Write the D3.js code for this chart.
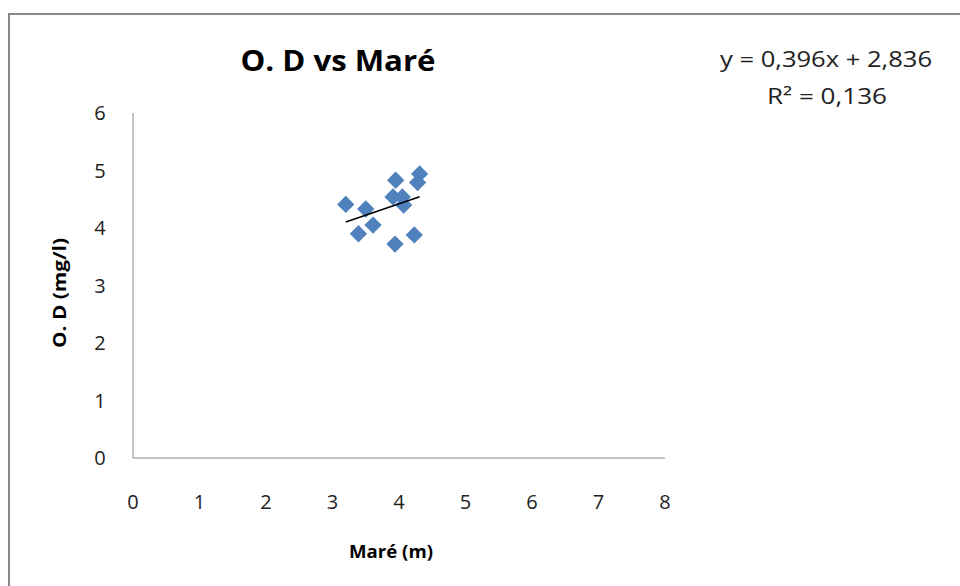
<!DOCTYPE html>
<html><head><meta charset="utf-8">
<script src="https://cdn.jsdelivr.net/npm/d3@7"></script>
<style>body{margin:0;background:#fff}svg{display:block}</style>
</head><body>
<svg id="c" width="960" height="586"></svg>
<script>
const mareValues = [3.20, 3.50, 3.39, 3.61, 3.95, 3.91, 4.05, 4.07, 3.94, 4.23, 4.31, 4.28];
const odValues   = [4.41, 4.33, 3.90, 4.05, 4.83, 4.54, 4.54, 4.40, 3.72, 3.88, 4.94, 4.79];
const xTicks = [0,1,2,3,4,5,6,7,8];
const yTicks = [0,1,2,3,4,5,6];
const slope = 0.396, intercept = 2.836, r2 = 0.136;
const title = "O. D vs Maré";
const xLabel = "Maré (m)";
const yLabel = "O. D (mg/l)";
const eqText = "y = 0,396x + 2,836";
const r2Text = "R² = 0,136";

const svg = d3.select("#c");
const font = "'Open Sans', sans-serif";
svg.append("rect").attr("x",9).attr("y",14).attr("width",1000).attr("height",700)
  .attr("fill","#fff").attr("stroke","#888").attr("stroke-width",2);

const x = d3.scaleLinear().domain([0,8]).range([133,665]);
const y = d3.scaleLinear().domain([0,6]).range([458,113]);

svg.append("line").attr("x1",x(0)).attr("x2",x(0)).attr("y1",y(6)).attr("y2",y(0)).attr("stroke","#888").attr("stroke-width",1);
svg.append("line").attr("x1",x(0)).attr("x2",x(8)).attr("y1",y(0)).attr("y2",y(0)).attr("stroke","#888").attr("stroke-width",1);

svg.append("g").selectAll("text").data(yTicks).join("text")
  .attr("x",100).attr("y",d=>y(d)).attr("dy","0.35em").attr("text-anchor","middle")
  .attr("font-family",font).attr("font-size",20).attr("fill","#222").text(d=>d);
svg.append("g").selectAll("text").data(xTicks).join("text")
  .attr("x",d=>x(d)).attr("y",502).attr("dy","0.35em").attr("text-anchor","middle")
  .attr("font-family",font).attr("font-size",20).attr("fill","#222").text(d=>d);

svg.append("text").attr("x",391).attr("y",552).attr("dy","0.35em").attr("text-anchor","middle")
  .attr("font-family",font).attr("font-size",18).attr("font-weight","bold").attr("fill","#000")
  .attr("textLength",84).attr("lengthAdjust","spacingAndGlyphs").text(xLabel);
svg.append("text").attr("transform","translate(60,293) rotate(-90)").attr("dy","0.35em").attr("text-anchor","middle")
  .attr("font-family",font).attr("font-size",18).attr("font-weight","bold").attr("fill","#000")
  .attr("textLength",110).attr("lengthAdjust","spacingAndGlyphs").text(yLabel);

svg.append("text").attr("x",338).attr("y",61).attr("dy","0.35em").attr("text-anchor","middle")
  .attr("font-family",font).attr("font-size",28).attr("font-weight","bold").attr("fill","#000")
  .attr("textLength",195).attr("lengthAdjust","spacingAndGlyphs").text(title);

svg.append("text").attr("x",826).attr("y",60).attr("dy","0.35em").attr("text-anchor","middle")
  .attr("font-family",font).attr("font-size",21).attr("fill","#222")
  .attr("textLength",212).attr("lengthAdjust","spacingAndGlyphs").text(eqText);
svg.append("text").attr("x",827).attr("y",97).attr("dy","0.35em").attr("text-anchor","middle")
  .attr("font-family",font).attr("font-size",21).attr("fill","#222")
  .attr("textLength",120).attr("lengthAdjust","spacingAndGlyphs").text(r2Text);

const data = mareValues.map((m,i)=>({x:m,y:odValues[i]}));
const sym = d3.symbol().type(d3.symbolSquare).size(150);
svg.append("g").selectAll("path").data(data).join("path")
  .attr("d",sym).attr("transform",d=>`translate(${x(d.x)},${y(d.y)}) rotate(45)`)
  .attr("fill","#4F81BD");

const [x0,x1] = d3.extent(mareValues);
svg.append("line").attr("x1",x(x0)).attr("y1",y(slope*x0+intercept))
  .attr("x2",x(x1)).attr("y2",y(slope*x1+intercept)).attr("stroke","#000").attr("stroke-width",1.5);
</script>
</body></html>
